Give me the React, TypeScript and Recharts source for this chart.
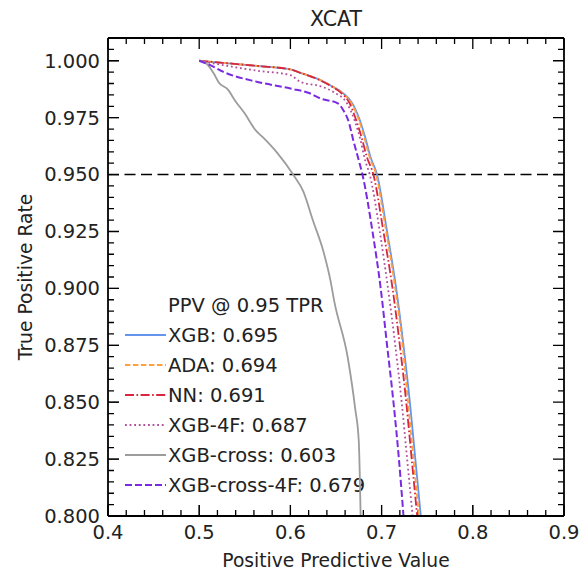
import React from 'react';
import { LineChart, Line, XAxis, YAxis, ReferenceLine } from 'recharts';

// TPR shared by the four close curves
const tprCommon = [1.0, 0.9991, 0.9977, 0.9962, 0.9947, 0.9915, 0.9885, 0.9857, 0.9813, 0.9752, 0.9664, 0.9575, 0.95, 0.925, 0.9, 0.875, 0.85, 0.825, 0.8];

const xgbPPV = [0.5, 0.526, 0.564, 0.6, 0.611, 0.633, 0.647, 0.658, 0.668, 0.675, 0.682, 0.688, 0.695, 0.706, 0.716, 0.724, 0.731, 0.737, 0.743];
const adaPPV = [0.5, 0.526, 0.564, 0.6, 0.611, 0.633, 0.647, 0.657, 0.667, 0.674, 0.681, 0.687, 0.694, 0.705, 0.715, 0.723, 0.729, 0.735, 0.741];
const nnPPV = [0.5, 0.526, 0.564, 0.6, 0.611, 0.632, 0.646, 0.656, 0.665, 0.671, 0.678, 0.684, 0.691, 0.702, 0.712, 0.72, 0.727, 0.733, 0.739];

const xgb4fTPR = [1.0, 0.9981, 0.9956, 0.9937, 0.9907, 0.9888, 0.9863, 0.9813, 0.9731, 0.965, 0.9562, 0.95, 0.925, 0.9, 0.875, 0.85, 0.825, 0.8];
const xgb4fPPV = [0.5, 0.526, 0.564, 0.6, 0.611, 0.633, 0.647, 0.662, 0.671, 0.677, 0.682, 0.687, 0.698, 0.707, 0.715, 0.722, 0.728, 0.734];

const crossTPR = [1.0, 0.9996, 0.9944, 0.9907, 0.9871, 0.9827, 0.9768, 0.9694, 0.9663, 0.9593, 0.95, 0.9427, 0.9295, 0.9165, 0.9033, 0.8945, 0.8693, 0.8473, 0.8327, 0.8];
const crossPPV = [0.5, 0.505, 0.516, 0.521, 0.532, 0.539, 0.55, 0.562, 0.57, 0.586, 0.603, 0.614, 0.625, 0.636, 0.644, 0.648, 0.663, 0.671, 0.675, 0.677];

const cross4fTPR = [1.0, 0.9981, 0.9952, 0.9907, 0.9878, 0.9856, 0.9834, 0.9813, 0.9783, 0.9731, 0.965, 0.9562, 0.95, 0.925, 0.9, 0.875, 0.85, 0.825, 0.8];
const cross4fPPV = [0.5, 0.512, 0.526, 0.564, 0.6, 0.622, 0.633, 0.652, 0.658, 0.664, 0.669, 0.675, 0.679, 0.69, 0.699, 0.706, 0.713, 0.719, 0.724];

const X_DOMAIN = [0.4, 0.9];
const Y_DOMAIN = [0.8, 1.01];
const xMajor = [0.4, 0.5, 0.6, 0.7, 0.8, 0.9];
const yMajor = [0.8, 0.825, 0.85, 0.875, 0.9, 0.925, 0.95, 0.975, 1.0];
const xMinor = Array.from({ length: 26 }, (_, i) => +(0.4 + i * 0.02).toFixed(3));
const yMinor = Array.from({ length: 42 }, (_, i) => +(0.8 + i * 0.005).toFixed(3));

const zip = (xs: number[], ys: number[]) => xs.map((x, i) => ({ x, y: ys[i] }));

const series = [
  { name: 'XGB: 0.695', data: zip(xgbPPV, tprCommon), color: '#6495ed', dash: undefined, width: 1.8 },
  { name: 'ADA: 0.694', data: zip(adaPPV, tprCommon), color: '#ffa040', dash: '5.5 2.5', width: 1.8 },
  { name: 'NN: 0.691', data: zip(nnPPV, tprCommon), color: '#d7263d', dash: '9 2.5 1.6 2.5', width: 1.8 },
  { name: 'XGB-4F: 0.687', data: zip(xgb4fPPV, xgb4fTPR), color: '#b0509c', dash: '1.8 2.8', width: 1.8 },
  { name: 'XGB-cross: 0.603', data: zip(crossPPV, crossTPR), color: '#9c9c9c', dash: undefined, width: 1.8 },
  { name: 'XGB-cross-4F: 0.679', data: zip(cross4fPPV, cross4fTPR), color: '#7a2be2', dash: '7 3', width: 2 },
];

// plot box is 456 x 478 px, used to turn tick lengths into data units
const PX_X = (X_DOMAIN[1] - X_DOMAIN[0]) / 456;
const PX_Y = (Y_DOMAIN[1] - Y_DOMAIN[0]) / 478;
const near = (v: number, list: number[]) => list.some(m => Math.abs(m - v) < 1e-6);
const len = (major: boolean) => (major ? 11 : 6);

// inward minor/top/right ticks, each side one broken path (null = gap)
const bottomTicks = xMinor.flatMap(v => {
  const l = len(near(v, xMajor)) * PX_Y;
  return [{ x: v, y: Y_DOMAIN[0] }, { x: v, y: Y_DOMAIN[0] + l }, { x: v, y: null }];
});
const topTicks = xMinor.flatMap(v => {
  const l = len(near(v, xMajor)) * PX_Y;
  return [{ x: v, y: Y_DOMAIN[1] }, { x: v, y: Y_DOMAIN[1] - l }, { x: v, y: null }];
});
const leftTicks = yMinor.flatMap(v => {
  const l = len(near(v, yMajor)) * PX_X;
  return [{ x: X_DOMAIN[0], y: v }, { x: X_DOMAIN[0] + l, y: v }, { x: X_DOMAIN[0], y: null }];
});
const rightTicks = yMinor.flatMap(v => {
  const l = len(near(v, yMajor)) * PX_X;
  return [{ x: X_DOMAIN[1], y: v }, { x: X_DOMAIN[1] - l, y: v }, { x: X_DOMAIN[1], y: null }];
});
const tickTraces = [bottomTicks, topTicks, leftTicks, rightTicks];

const FONT = '"DejaVu Sans", sans-serif';

export default function App() {
  return (
    <div style={{ position: 'absolute', left: 0, top: 0, width: 579, height: 571, background: '#fff' }}>
      {/* texts sit underneath the chart so nothing covers the plot */}
      <svg width={579} height={571} style={{ position: 'absolute', left: 0, top: 0 }}>
        <text x={336} y={26} textAnchor="middle" fontFamily={FONT} fontSize={20.5} fill="#222">XCAT</text>
        <text x={336} y={567} textAnchor="middle" fontFamily={FONT} fontSize={18.7} fill="#222">Positive Predictive Value</text>
        <text x={32} y={277} textAnchor="middle" fontFamily={FONT} fontSize={18.7} fill="#222" transform="rotate(-90 32 277)">True Positive Rate</text>
        <text x={168} y={312} fontFamily={FONT} fontSize={19.5} fill="#222">PPV @ 0.95 TPR</text>
        {series.map((s, i) => {
          const cy = 335 + i * 30;
          return (
            <g key={s.name}>
              <line x1={125} x2={166} y1={cy} y2={cy} stroke={s.color} strokeWidth={s.width} strokeDasharray={s.dash} />
              <text x={168} y={cy + 7} fontFamily={FONT} fontSize={19.5} fill="#222">{s.name}</text>
            </g>
          );
        })}
      </svg>
      <div style={{ position: 'absolute', left: 0, top: 0 }}>
        <LineChart width={579} height={571} margin={{ top: 38, right: 15, bottom: 54, left: 107 }}>
          <XAxis type="number" dataKey="x" domain={X_DOMAIN} ticks={xMajor} interval={0}
            height={1} tickSize={-11} tickMargin={20} tickLine={{ stroke: '#000' }}
            axisLine={{ stroke: '#000', strokeWidth: 1.8 }}
            tick={{ fontSize: 19.5, fill: '#222', fontFamily: FONT }} tickFormatter={(v: number) => v.toFixed(1)} />
          <YAxis type="number" domain={Y_DOMAIN} ticks={yMajor} interval={0}
            width={1} tickSize={-11} tickMargin={19} tickLine={{ stroke: '#000' }}
            axisLine={{ stroke: '#000', strokeWidth: 1.8 }}
            tick={{ fontSize: 19.5, fill: '#222', fontFamily: FONT }} tickFormatter={(v: number) => v.toFixed(3)} />
          {/* top and right frame */}
          <ReferenceLine y={Y_DOMAIN[1]} stroke="#000" strokeWidth={1.8} ifOverflow="visible" />
          <ReferenceLine x={X_DOMAIN[1]} stroke="#000" strokeWidth={1.8} ifOverflow="visible" />
          {tickTraces.map((t, i) => (
            <Line key={`ticks-${i}`} data={t} dataKey="y" type="linear" stroke="#000" strokeWidth={1.3}
              connectNulls={false} dot={false} activeDot={false} isAnimationActive={false} />
          ))}
          <ReferenceLine y={0.95} stroke="#000" strokeWidth={1.6} strokeDasharray="11 5.5" />
          {series.map(s => (
            <Line key={s.name} data={s.data} dataKey="y" type="monotoneX"
              stroke={s.color} strokeWidth={s.width} strokeDasharray={s.dash} dot={false} activeDot={false}
              isAnimationActive={false} />
          ))}
        </LineChart>
      </div>
    </div>
  );
}
